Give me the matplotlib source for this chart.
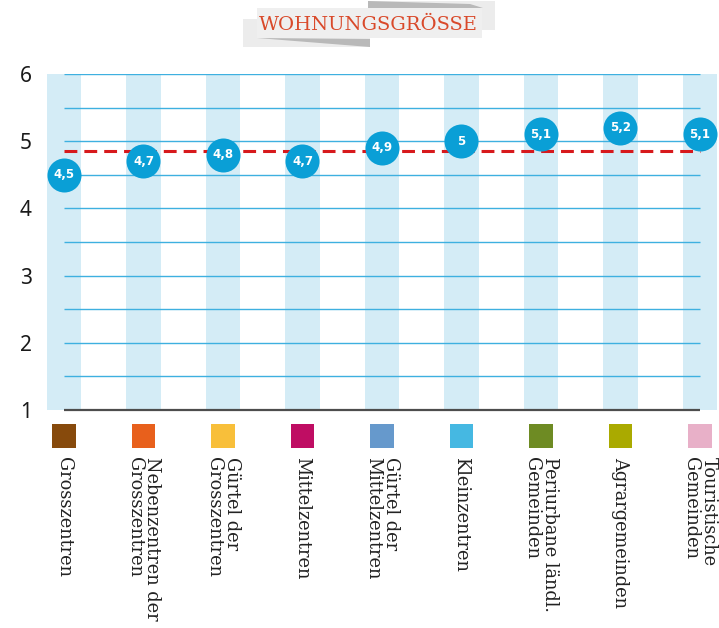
import numpy as np
import matplotlib
matplotlib.use("Agg")
from matplotlib import pyplot as plt
from matplotlib.patches import Rectangle, Polygon

# data
categories = ["Grosszentren", "Nebenzentren der\nGrosszentren",
              "Gürtel der\nGrosszentren", "Mittelzentren",
              "Gürtel der\nMittelzentren", "Kleinzentren",
              "Periurbane ländl.\nGemeinden", "Agrargemeinden",
              "Touristische\nGemeinden"]
values = [4.5, 4.7, 4.8, 4.7, 4.9, 5.0, 5.1, 5.2, 5.1]
value_labels = ["4,5", "4,7", "4,8", "4,7", "4,9", "5", "5,1", "5,2", "5,1"]
average = 4.85
type_colors = ["#874a0c", "#e8601c", "#f8bf3a", "#bf0d63", "#6699cc",
               "#45b8e2", "#6e8b23", "#aaaa00", "#e8b0c8"]
y_ticks = [1, 2, 3, 4, 5, 6]

title = "WOHNUNGSGRÖSSE"

W, H = 719, 628
fig = plt.figure(figsize=(W/100., H/100.), dpi=100)

# background layer in pixel coords (for the title banner)
bg = fig.add_axes([0, 0, 1, 1])
bg.set_xlim(0, W); bg.set_ylim(H, 0)
bg.axis('off')
bg.add_patch(Rectangle((368, 1), 127, 29, color='#ececec', lw=0))
bg.add_patch(Polygon([(368, 1), (470, 4), (483, 8), (368, 8)],
                     closed=True, color='#b9b9b9', lw=0))
bg.add_patch(Rectangle((243, 19), 127, 28, color='#ececec', lw=0))
bg.add_patch(Polygon([(257, 38), (370, 39), (370, 47)],
                     closed=True, color='#b9b9b9', lw=0))
bg.add_patch(Rectangle((257, 8), 225, 30, color='#efefef', lw=0))
bg.text(368, 25, title, ha='center', va='center', color='#d9492a',
        fontsize=14, family='DejaVu Serif', fontweight='medium')

x = np.arange(len(categories))

ax = fig.add_axes([44.1/W, 218./H, 675.75/W, 336./H])
ax.set_xlim(-0.25, 8.25)
ax.set_ylim(1, 6)
for s in ax.spines.values():
    s.set_visible(False)

# light stripes behind each category
ax.bar(x, 5, bottom=1, width=0.43, color='#d4ecf6', zorder=0)

# grid lines: whole and half units
major = np.arange(2, 7)
minor = np.arange(1.5, 6, 1.0)
ax.hlines(np.concatenate([major, minor]), 0, len(categories) - 1,
          color='#3eb0e0', lw=1, zorder=1)
ax.hlines(1, 0, len(categories) - 1, color='#4d4d4d', lw=1.6, zorder=2,
          clip_on=False)

# average line
ax.plot([0, len(categories) - 1], [average, average], color='#d7191c',
        lw=2.2, dashes=(4.2, 2.3), zorder=3)

# value markers
ax.scatter(x, values, s=600, color='#0a9fd6', zorder=4, linewidths=0,
           clip_on=False)
for xi, v, lab in zip(x, values, value_labels):
    ax.text(xi, v, lab, ha='center', va='center', color='white',
            fontsize=8.5, fontweight='bold', family='DejaVu Sans', zorder=5)

ax.set_xticks([])
ax.set_yticks(y_ticks)
ax.set_yticklabels([str(t) for t in y_ticks], family='Noto Sans',
                   fontsize=15, color='#1a1a1a')
ax.tick_params(axis='y', length=0, pad=9)

# colour keys and rotated category names below the axis
for xi, c, name in zip(x, type_colors, categories):
    ax.add_patch(Rectangle((xi - 0.15, 0.435), 0.30, 0.357, color=c,
                           lw=0, clip_on=False))
    ax.text(xi, 0.30, name, rotation=270, ha='center', va='top',
            fontsize=12.8, family='DejaVu Serif', color='#222222',
            multialignment='left', linespacing=0.95, clip_on=False)

fig.savefig('out.png', dpi=100)
